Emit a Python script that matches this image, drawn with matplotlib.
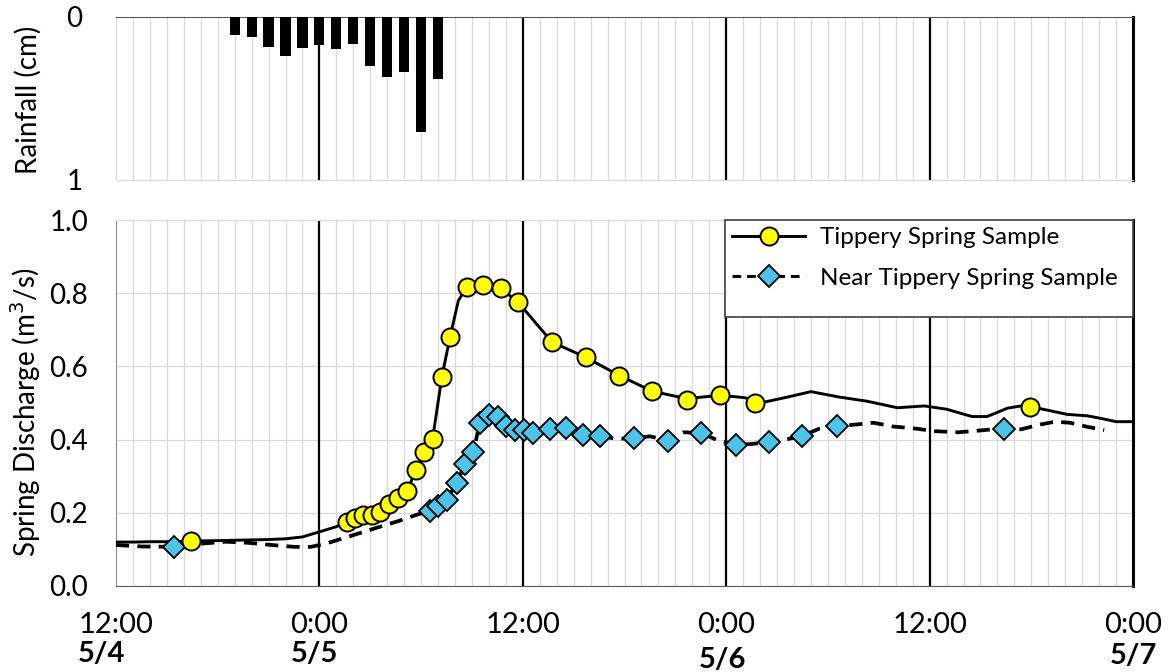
import matplotlib

matplotlib.use("Agg")
import matplotlib.pyplot as plt
import matplotlib.transforms as mtransforms
from matplotlib.lines import Line2D
from matplotlib.patches import Rectangle
import numpy as np

plt.rcParams["font.family"] = ["Lato", "DejaVu Sans"]

# hours since 12:00 on 5/4
rain_hours = [7, 8, 9, 10, 11, 12, 13, 14, 15, 16, 17, 18, 19]
rain_cm = [0.112, 0.120, 0.184, 0.237, 0.192, 0.173, 0.198, 0.167,
           0.300, 0.371, 0.339, 0.708, 0.378]

tippery_line_h = [0, 1, 2, 3, 4.45, 6, 8, 9, 10, 11, 12, 13,
                  13.61, 14.10, 14.59, 15.09, 15.58, 16.12, 16.65, 17.19,
                  17.68, 18.17, 18.68, 19.22, 19.71, 20.2, 20.69, 21.67,
                  22.71, 23.73, 25.71, 27.70, 29.70, 31.64, 33.66, 35.64,
                  37.0, 38.3, 39.5, 41.0, 42.7, 44.3, 46.1, 47.7, 49.0,
                  50.5, 51.4, 52.6, 53.4, 53.94, 54.9, 56.1, 57.3, 58.1,
                  59.0, 60.0]
tippery_line_q = [0.120, 0.120, 0.121, 0.121, 0.123, 0.124, 0.126, 0.127,
                  0.129, 0.134, 0.148, 0.162,
                  0.176, 0.185, 0.194, 0.196, 0.203, 0.224, 0.240, 0.260,
                  0.317, 0.367, 0.402, 0.570, 0.681, 0.780, 0.816, 0.822,
                  0.813, 0.775, 0.667, 0.625, 0.575, 0.532, 0.512, 0.521,
                  0.515, 0.503, 0.515, 0.531, 0.516, 0.505, 0.487, 0.492,
                  0.483, 0.463, 0.463, 0.486, 0.492, 0.490, 0.481, 0.469,
                  0.465, 0.458, 0.449, 0.449]

near_line_h = [0, 1.5, 3.42, 4.8, 6.5, 7.8, 9.2, 10.5, 11.5, 12.4, 13.8,
               15.3, 16.7, 17.7, 18.53, 19.02, 19.51, 20.10, 20.59, 21.08,
               21.47, 22.02, 22.56, 23.01, 23.54, 24.07, 24.62, 25.60,
               26.55, 27.56, 28.58, 29.6, 30.56, 31.5, 32.58, 33.5, 34.54,
               35.4, 36.57, 37.5, 38.51, 39.5, 40.47, 41.5, 42.54, 43.6,
               44.7, 45.8, 47.2, 48.3, 49.7, 51.0, 52.4, 53.4, 54.4, 55.4,
               56.3, 57.3, 58.3]
near_line_q = [0.112, 0.108, 0.107, 0.115, 0.121, 0.118, 0.112, 0.107,
               0.107, 0.116, 0.136, 0.158, 0.178, 0.194, 0.206, 0.219,
               0.235, 0.282, 0.333, 0.367, 0.446, 0.467, 0.463, 0.437,
               0.426, 0.426, 0.417, 0.428, 0.431, 0.413, 0.409, 0.402,
               0.404, 0.409, 0.397, 0.420, 0.418, 0.400, 0.386, 0.388,
               0.393, 0.400, 0.410, 0.430, 0.436, 0.441, 0.446, 0.436,
               0.430, 0.423, 0.420, 0.425, 0.431, 0.428, 0.440, 0.449,
               0.446, 0.435, 0.426]

tippery_sample_h = [4.45, 13.61, 14.10, 14.59, 15.09, 15.58, 16.12, 16.65,
                    17.19, 17.68, 18.17, 18.68, 19.22, 19.71, 20.69, 21.67,
                    22.71, 23.73, 25.71, 27.70, 29.70, 31.64, 33.66, 35.64,
                    37.70, 53.94]
tippery_sample_q = [0.122, 0.176, 0.185, 0.194, 0.194, 0.203, 0.224, 0.240,
                    0.260, 0.317, 0.367, 0.402, 0.570, 0.681, 0.816, 0.822,
                    0.813, 0.775, 0.667, 0.625, 0.575, 0.532, 0.508, 0.521,
                    0.500, 0.490]

near_sample_h = [3.42, 18.53, 19.02, 19.51, 20.10, 20.59, 21.08, 21.47,
                 22.02, 22.56, 23.01, 23.54, 24.07, 24.62, 25.60, 26.55,
                 27.56, 28.58, 30.56, 32.58, 34.54, 36.57, 38.51, 40.47,
                 42.54, 52.40]
near_sample_q = [0.107, 0.206, 0.219, 0.235, 0.282, 0.333, 0.367, 0.446,
                 0.467, 0.463, 0.437, 0.426, 0.426, 0.417, 0.428, 0.431,
                 0.413, 0.409, 0.404, 0.397, 0.418, 0.386, 0.393, 0.410,
                 0.436, 0.430]

time_ticks = [0, 12, 24, 36, 48, 60]
time_labels = ["12:00", "0:00", "12:00", "0:00", "12:00", "0:00"]
date_labels = ["5/4", "5/5", "5/6", "5/7"]
date_h = [-0.85, 11.7, 35.8, 60.0]
date_y = [-0.186, -0.186, -0.203, -0.192]

grid_color = "#d9d9d9"
yellow = "#ffff00"
blue = "#4dc3ea"

fig = plt.figure(figsize=(11.74, 6.72), dpi=100)
ax_rain = fig.add_axes([116 / 1174, 1 - 180 / 672, 1017 / 1174, 163 / 672])
ax_q = fig.add_axes([116 / 1174, 1 - 586 / 672, 1017 / 1174, 366 / 672])

for axis in (ax_rain, ax_q):
    axis.set_xlim(0, 60)
    axis.set_xticks(time_ticks)
    axis.set_xticks(np.arange(0, 61, 1), minor=True)
    axis.grid(which="minor", axis="x", color=grid_color, linewidth=0.9)
    axis.tick_params(which="both", length=0)
    axis.set_axisbelow(True)
    for h in time_ticks[1:-1]:
        axis.axvline(h, color="black", linewidth=1.6, zorder=1.5)
    axis.spines["right"].set_color("black")
    axis.spines["right"].set_linewidth(2.2)
    axis.spines["left"].set_color("#8c8c8c")

# rainfall panel
ax_rain.bar(rain_hours, rain_cm, width=0.6, color="black", zorder=3)
ax_rain.set_ylim(1, 0)
ax_rain.set_yticks([0, 1])
ax_rain.set_yticklabels(["0", "1"])
ax_rain.tick_params(axis="y", labelsize=20, pad=24)
ax_rain.set_xticklabels([])
ax_rain.spines["top"].set_color("#595959")
ax_rain.spines["bottom"].set_color(grid_color)
ax_rain.spines["left"].set_color(grid_color)
fig.text(28 / 1174, 1 - 100 / 672, "Rainfall (cm)", rotation=90,
         ha="center", va="center", fontsize=20)

# discharge panel
ax_q.plot(tippery_line_h, tippery_line_q, color="black", linewidth=2.1, zorder=3)
ax_q.plot(near_line_h, near_line_q, color="black", linewidth=2.7,
          linestyle=(0, (3.5, 2.2)), zorder=3)
ax_q.plot(tippery_sample_h, tippery_sample_q, linestyle="none", marker="o",
          markersize=13, markerfacecolor=yellow, markeredgecolor="black",
          markeredgewidth=1.4, zorder=5)
ax_q.plot(near_sample_h, near_sample_q, linestyle="none", marker="D",
          markersize=11, markerfacecolor=blue, markeredgecolor="black",
          markeredgewidth=1.3, zorder=4)

ax_q.set_ylim(0, 1.0)
ax_q.set_yticks(np.arange(0, 1.01, 0.2))
ax_q.set_yticklabels([f"{v:.1f}" for v in np.arange(0, 1.01, 0.2)])
ax_q.grid(which="major", axis="y", color=grid_color, linewidth=0.9)
ax_q.tick_params(axis="y", labelsize=20, pad=20)
ax_q.set_xticklabels(time_labels)
ax_q.tick_params(axis="x", labelsize=21, pad=19)
ax_q.spines["top"].set_color(grid_color)
ax_q.spines["bottom"].set_color("#595959")
fig.text(26 / 1174, 1 - 412 / 672, "Spring Discharge (m$^3$/s)", rotation=90,
         ha="center", va="center", fontsize=20)

trans = mtransforms.blended_transform_factory(ax_q.transData, ax_q.transAxes)
for label, h, y in zip(date_labels, date_h, date_y):
    ax_q.text(h, y, label, transform=trans, ha="center", va="center",
              fontsize=21, fontweight="bold", clip_on=False)

# legend box as in the source (extra space below the entries)
box_x0 = (725 - 116) / 1017
box_y0 = (586 - 317) / 366
ax_q.add_patch(Rectangle((box_x0, box_y0), 1 - box_x0, 1 - box_y0,
                         transform=ax_q.transAxes, facecolor="white",
                         edgecolor="#404040", linewidth=1.2, zorder=9,
                         clip_on=False))

handles = [
    Line2D([], [], color="black", linewidth=2.1, marker="o", markersize=13,
           markerfacecolor=yellow, markeredgecolor="black", markeredgewidth=1.4),
    Line2D([], [], color="black", linewidth=2.1, linestyle=(0, (3, 2)),
           marker="D", markersize=11, markerfacecolor=blue,
           markeredgecolor="black", markeredgewidth=1.3),
]
legend = ax_q.legend(handles, ["Tippery Spring Sample", "Near Tippery Spring Sample"],
                     loc="upper left", bbox_to_anchor=(box_x0, 1.0), fontsize=17.5,
                     frameon=False, borderpad=0.3, handlelength=3.0,
                     handletextpad=0.6, labelspacing=0.8, borderaxespad=0)
legend.set_zorder(10)

fig.savefig("out.png", dpi=100, facecolor="white")
